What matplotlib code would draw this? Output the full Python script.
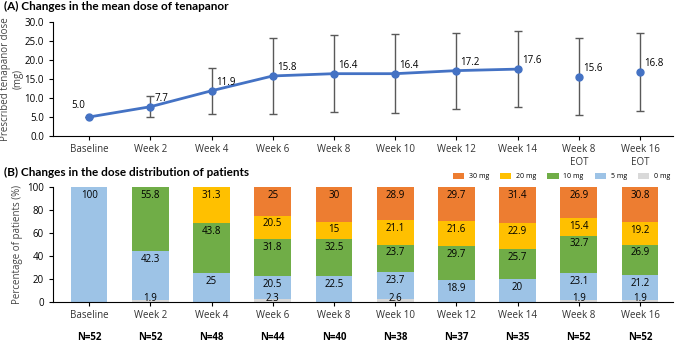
import numpy as np
import matplotlib
matplotlib.use("Agg")
from matplotlib import pyplot as plt
from matplotlib import transforms

plt.rcParams['font.family'] = ['Open Sans', 'DejaVu Sans']

weeks = ["Baseline", "Week 2", "Week 4", "Week 6", "Week 8", "Week 10",
         "Week 12", "Week 14", "Week 8\nEOT", "Week 16\nEOT"]
weeks_b = ["Baseline", "Week 2", "Week 4", "Week 6", "Week 8", "Week 10",
           "Week 12", "Week 14", "Week 8", "Week 16"]

mean_dose = [5.0, 7.7, 11.9, 15.8, 16.4, 16.4, 17.2, 17.6, 15.6, 16.8]
sd_dose = [0.0, 2.7, 6.0, 9.9, 10.2, 10.4, 10.0, 10.1, 10.1, 10.3]

n_patients = [52, 52, 48, 44, 40, 38, 37, 35, 52, 52]

dose_0 = [0, 1.9, 0, 2.3, 0, 2.6, 0, 0, 1.9, 1.9]
dose_5 = [100, 42.3, 25, 20.5, 22.5, 23.7, 18.9, 20, 23.1, 21.2]
dose_10 = [0, 55.8, 43.8, 31.8, 32.5, 23.7, 29.7, 25.7, 32.7, 26.9]
dose_20 = [0, 0, 31.3, 20.5, 15, 21.1, 21.6, 22.9, 15.4, 19.2]
dose_30 = [0, 0, 0, 25, 30, 28.9, 29.7, 31.4, 26.9, 30.8]

dose_names = ["0 mg", "5 mg", "10 mg", "20 mg", "30 mg"]
dose_colors = ["#D9D9D9", "#9DC3E6", "#70AD47", "#FFC000", "#ED7D31"]

fig = plt.figure(figsize=(6.76, 3.43), dpi=100)
ax1 = fig.add_axes([0.0784, 0.6035, 0.9172, 0.3324])
ax2 = fig.add_axes([0.0784, 0.1195, 0.9172, 0.3353])

x = np.arange(len(weeks))

# (A) mean dose
ax1.errorbar(x, mean_dose, yerr=sd_dose, fmt='none', ecolor='#595959',
             elinewidth=1, capsize=3, capthick=1, zorder=1)
ax1.plot(x[:8], mean_dose[:8], color='#4472C4', lw=2, marker='o', ms=5, zorder=3)
ax1.plot(x[8:], mean_dose[8:], color='#4472C4', lw=0, marker='o', ms=5, zorder=3)
for i, v in enumerate(mean_dose):
    if i == 0:
        ax1.annotate(f"{v:.1f}", (i, v), xytext=(-3, 4), textcoords='offset points',
                     ha='right', va='bottom', fontsize=7)
    else:
        ax1.annotate(f"{v:.1f}", (i, v), xytext=(3, 2), textcoords='offset points',
                     ha='left', va='bottom', fontsize=7)
ax1.set_ylim(0, 30)
ax1.set_yticks(np.arange(0, 31, 5))
ax1.set_yticklabels([f"{t:.1f}" for t in np.arange(0, 31, 5)])
ax1.set_xlim(-0.59, 9.54)
ax1.set_xticks(x)
ax1.set_xticklabels(weeks, fontsize=7, color='#333333')
ax1.tick_params(axis='y', labelsize=7, length=3)
ax1.tick_params(axis='x', length=3, pad=3)
ax1.set_ylabel("Prescribed tenapanor dose\n(mg)", fontsize=7, color='#444444',
               linespacing=1.1)
ax1.yaxis.set_label_coords(-0.048, 0.5)
for s in ['top', 'right']:
    ax1.spines[s].set_visible(False)
fig.text(0.006, 0.982, "(A) Changes in the mean dose of tenapanor", fontsize=8.5,
         fontweight='bold', va='center', ha='left', family=['Lato', 'DejaVu Sans'])

# (B) dose distribution
bottom = np.zeros(len(weeks))
series = [dose_0, dose_5, dose_10, dose_20, dose_30]
bars = []
for vals, name, col in zip(series, dose_names, dose_colors):
    b = ax2.bar(x, vals, 0.6, bottom=bottom, color=col, label=name)
    bars.append(b)
    for i, v in enumerate(vals):
        if v <= 0:
            continue
        if v < 5:
            ax2.annotate(f"{v:g}", (i, bottom[i]), xytext=(0, -1.5), textcoords='offset points',
                         ha='center', va='bottom', fontsize=7)
        else:
            ax2.annotate(f"{v:g}", (i, bottom[i] + v), xytext=(0, -2), textcoords='offset points',
                         ha='center', va='top', fontsize=7)
    bottom += np.array(vals)

ax2.set_ylim(0, 100)
ax2.set_xlim(-0.59, 9.54)
ax2.set_xticks(x)
ax2.set_xticklabels(weeks_b, fontsize=7, color='#333333')
ax2.tick_params(axis='y', labelsize=7, length=3)
ax2.tick_params(axis='x', length=3, pad=3)
ax2.set_ylabel("Percentage of patients (%)", fontsize=7, color='#444444', labelpad=3)
for s in ['top', 'right']:
    ax2.spines[s].set_visible(False)
fig.text(0.006, 0.496, "(B) Changes in the dose distribution of patients", fontsize=8.5,
         fontweight='bold', va='center', ha='left', family=['Lato', 'DejaVu Sans'])

handles = bars[::-1]
ax2.legend(handles, dose_names[::-1], loc='center right', bbox_to_anchor=(1.0, 1.09),
           ncol=5, frameon=False, fontsize=5, handlelength=1.6, handleheight=0.9,
           columnspacing=1.6, handletextpad=0.7, borderaxespad=0)

trans = transforms.blended_transform_factory(ax2.transData, fig.transFigure)
for i, n in enumerate(n_patients):
    ax2.text(i, 0.015, f"N={n}", transform=trans, ha='center', va='center',
             fontsize=7, fontweight='bold')

fig.savefig("out.png", dpi=100)
